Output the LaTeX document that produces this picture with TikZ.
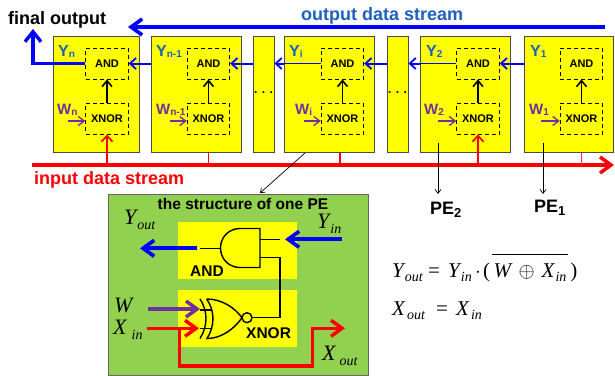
\documentclass[tikz,border=0pt]{standalone}
\usepackage{fontspec}
\setmainfont{Liberation Sans}
\newfontfamily\tmsfont{Liberation Serif}
\usetikzlibrary{arrows.meta}
\definecolor{pey}{HTML}{FFFF00}
\definecolor{peg}{HTML}{92D050}
\definecolor{bluetxt}{HTML}{1F5FBF}
\definecolor{purp}{HTML}{7030A0}
\definecolor{blueline}{HTML}{0000FF}
\newcommand{\fsz}[1]{\fontsize{#1}{#1}\selectfont}
\newcommand{\lab}[2]{#1\raisebox{-1.5pt}{\fsz{10}#2}}
\newcommand{\mth}[2]{{\tmsfont\itshape\fsz{22}#1\kern1pt\raisebox{-5pt}{\fsz{14}#2}}}
\newcommand{\emth}[2]{{\tmsfont\itshape\fsz{21}#1\kern1pt\raisebox{-4.5pt}{\fsz{14}#2}}}
\newcommand{\slot}[2]{\makebox[#1pt][l]{#2}}
\tikzset{
  pebox/.style={draw=black!70,fill=pey,line width=0.9pt,minimum height=115.5pt,inner sep=0pt},
  gatebox/.style={draw=black,dashed,line width=0.9pt,minimum width=42.5pt,minimum height=31pt,inner sep=0pt,font=\bfseries\fsz{11},dash pattern=on 4pt off 3pt},
  txt/.style={inner sep=0pt,font=\bfseries\fsz{18}},
  ylab/.style={inner sep=0pt,anchor=base west,text=bluetxt,font=\bfseries\fsz{16}},
  wlab/.style={inner sep=0pt,anchor=base west,text=purp,font=\bfseries\fsz{15}},
  thinblue/.style={draw=blueline,line width=1.3pt},
  thinarr/.style={draw=blueline,line width=2pt,-{Straight Barb[length=6pt,width=11pt,line width=1.8pt]}},
  warr/.style={draw=purp,line width=1.3pt,-{Straight Barb[length=6pt,width=9pt,line width=1.3pt]}},
  upk/.style={draw=black,line width=1.6pt,-{Straight Barb[length=6pt,width=10pt,line width=1.6pt]}},
  redstub/.style={draw=red,line width=1.2pt},
  redarr/.style={draw=red,line width=1.7pt,-{Straight Barb[length=6pt,width=11pt,line width=1.7pt]}},
  bigblue/.style={draw=blueline,line width=3.7pt,-{Straight Barb[length=11pt,width=16pt,line width=3.7pt]}},
  bigred/.style={draw=red,line width=3.5pt,-{Straight Barb[length=11pt,width=16pt,line width=3.5pt]}},
  bigpurp/.style={draw=purp,line width=3.5pt,-{Straight Barb[length=11pt,width=16pt,line width=3.5pt]}},
  thinblk/.style={draw=black,line width=0.7pt,-{Straight Barb[length=4pt,width=6pt,line width=0.7pt]}},
  gateline/.style={draw=black,line width=1.4pt},
  math/.style={inner sep=0pt,anchor=base west},
}
\begin{document}
\begin{tikzpicture}[x=1pt,y=-1pt]
\useasboundingbox (0,0) rectangle (615,375);
\fill[white] (0,0) rectangle (615,375);

% streams
\coordinate (ostart) at (605,27);
\coordinate (oend) at (128,27);
\draw[bigblue] (ostart) -- (oend);
\coordinate (istart) at (32,165);
\coordinate (iend) at (614,165);
\draw[bigred] (istart) -- (iend);

% PE boxes
\node[pebox,minimum width=86pt] (pn) at (96,94.5) {};
\node[pebox,minimum width=90pt] (pm) at (196,94.5) {};
\node[pebox,minimum width=21pt] (d1) at (263.5,94.5) {};
\node[pebox,minimum width=90pt] (pi) at (329,94.5) {};
\node[pebox,minimum width=21pt] (d2) at (397.5,94.5) {};
\node[pebox,minimum width=90pt] (p2) at (465,94.5) {};
\node[pebox,minimum width=89pt] (p1) at (568.5,94.5) {};

\node[inner sep=0pt,font=\bfseries\fsz{12}] (dt1) at (263.5,93) {. . .};
\node[inner sep=0pt,font=\bfseries\fsz{12}] (dt2) at (397.5,93) {. . .};

% gates in PEs
\foreach \n/\x in {n/107,m/208.5,i/342.5,t/478,o/581.5}{
  \node[gatebox] (a\n) at (\x,63.5) {AND};
  \node[gatebox] (x\n) at (\x,118.5) {XNOR};
  \draw[upk] (x\n.north) -- (a\n.south);
}

% labels
\node[ylab] (yn) at (58,56) {\lab{Y}{n}};
\node[ylab] (ym) at (156,56) {\lab{Y}{n-1}};
\node[ylab] (yi) at (289,56) {\lab{Y}{i}};
\node[ylab] (yt) at (426,56) {\lab{Y}{2}};
\node[ylab] (yo) at (530,56) {\lab{Y}{1}};
\node[wlab] (wn) at (57,114) {\lab{W}{n}};
\node[wlab] (wm) at (156,114) {\lab{W}{n-1}};
\node[wlab] (wi) at (295,114) {\lab{W}{i}};
\node[wlab] (wt) at (424,114) {\lab{W}{2}};
\node[wlab] (wo) at (529,114) {\lab{W}{1}};

% W inputs
\foreach \n/\x in {n/68,m/170,i/304,t/438,o/541}{
  \coordinate (ws\n) at (\x,121);
  \draw[warr] (ws\n) -- (x\n.west |- ws\n);
}

% blue chain
\draw[thinarr] (pm.west |- an.east) -- (an.east);
\draw[thinarr] (d1.west |- am.east) -- (am.east);
\draw[thinblue] (ai.west) -- (pi.west |- ai.west);
\draw[thinarr] (pi.west |- ai.west) -- (d1.east |- ai.west);
\draw[thinarr] (d2.west |- ai.east) -- (ai.east);
\draw[thinblue] (at.west) -- (p2.west |- at.west);
\draw[thinarr] (p2.west |- at.west) -- (d2.east |- at.west);
\draw[thinarr] (p1.west |- at.east) -- (at.east);
\coordinate (fo) at (33,29);
\draw[draw=blueline,line width=3.4pt,-{Straight Barb[length=10pt,width=16pt,line width=3.4pt]}] (an.west) -| (fo);

% red stubs
\draw[redarr] (an.center |- istart) -- (xn.south);
\draw[redarr] (at.center |- istart) -- (xt.south);
\draw[redstub] (pm.south -| xm) -- (xm |- istart);
\coordinate (irs) at (340,153);
\draw[redstub] (irs) -- (irs |- istart);
\draw[redstub,red!80] (p1.south -| xo) -- (xo |- istart);

% stream texts
\node[txt,anchor=base west] (fot) at (8,24) {final output};
\node[txt,anchor=base west,text=bluetxt] (ost) at (301,20) {output data stream};
\node[txt,anchor=base west,text=red] (ist) at (34,184) {input data stream};

% PE labels
\node[txt,anchor=base west,font=\bfseries\fsz{18}] (pet) at (430,214) {PE\raisebox{-3.5pt}{\fsz{13}2}};
\node[txt,anchor=base west,font=\bfseries\fsz{18}] (peo) at (534,212) {PE\raisebox{-3.5pt}{\fsz{13}1}};
\coordinate (pts) at (438,143);
\coordinate (pte) at (438,194);
\coordinate (pos) at (543,143);
\coordinate (poe) at (543,194);
\draw[thinblk] (pts) -- (pte);
\draw[thinblk] (pos) -- (poe);

% detail panel
\node[draw=black!60,fill=peg,line width=0.8pt,minimum width=260pt,minimum height=181pt,inner sep=0pt] (panel) at (238,285) {};
\coordinate (zs) at (305,153);
\coordinate (ze) at (260,193);
\draw[thinblk] (zs) -- (ze);
\node[txt,font=\bfseries\fsz{15.5}] (ttl) at (243,204) {the structure of one PE};
\node[fill=pey,inner sep=0pt,minimum width=119pt,minimum height=57pt] (ya) at (237.5,250.5) {};
\node[fill=pey,inner sep=0pt,minimum width=119pt,minimum height=57pt] (yx) at (237.5,318.5) {};

% AND gate
\draw[gateline] (260,228.5) -- (260,267.5) -- (240,267.5) .. controls (229,267.5) and (220.5,259) .. (220.5,248) .. controls (220.5,237) and (229,228.5) .. (240,228.5) -- cycle;
\coordinate (ao) at (200,248.3);
\draw[gateline] (ao) -- (220.5,248.3);
\coordinate (ai1) at (280,239.3);
\draw[gateline] (260,239.3) -- (ai1);
% XNOR gate
\draw[gateline] (206.7,299) .. controls (222,299) and (235,308) .. (242,317.7) .. controls (235,328) and (222,338.5) .. (207,338.5) .. controls (215,326) and (215,311) .. (206.7,299);
\draw[gateline] (200,299) .. controls (208,311) and (208,326) .. (200,338.5);
\draw[gateline] (200,310) -- (212,310);
\draw[gateline] (200,328.3) -- (212,328.3);
\node[draw=black,line width=1.4pt,circle,minimum size=10pt,inner sep=0pt] (bub) at (247,317.7) {};
\draw[gateline] (bub.east) -| (280,257.5) -- (260,257.5);

\node[txt,anchor=base west,font=\bfseries\fsz{15.5}] (andt) at (190,276) {AND};
\node[txt,anchor=base west,font=\bfseries\fsz{15.5}] (xnt) at (246,338) {XNOR};

% big arrows in panel
\coordinate (yos) at (196.7,248.3);
\coordinate (yoe) at (140,248.3);
\draw[bigblue] (yos) -- (yoe);
\coordinate (yis) at (341.7,239.3);
\coordinate (yie) at (285,239.3);
\draw[bigblue] (yis) -- (yie);
\coordinate (ws) at (147.7,309);
\coordinate (we) at (200,309);
\draw[bigpurp] (ws) -- (we);
\coordinate (xis) at (146.7,328.3);
\coordinate (xie) at (199,328.3);
\draw[bigred] (xis) -- (xie);
\coordinate (xob) at (179.3,328.3);
\coordinate (xoe) at (345,328.3);
\draw[bigred] (xob) |- (312.3,366) |- (xoe);

% panel math
\node[math] (myo) at (124,224) {\mth{Y}{out}};
\node[math] (myi) at (317,228) {\mth{Y}{in}};
\node[math] (mw) at (114,312) {\mth{W}{}};
\node[math] (mxi) at (113,334) {\mth{X}{\kern4pt in}};
\node[math] (mxo) at (322,360) {\mth{X}{\kern3pt out}};

% equations
\node[math] (eq1) at (392,277) {\tmsfont\fsz{21}\slot{36}{\emth{Y}{out}}\slot{20}{=}\slot{27}{\emth{Y}{in}}\slot{8}{$\cdot$}\slot{9}{(}$\overline{\hbox{\rule{0pt}{21.5pt}\kern1.5pt\slot{25}{\emth{W}{}}\slot{23}{$\oplus$}\emth{X}{in}\kern2pt}}$\kern2pt)};
\node[math] (eq2) at (392,315) {\tmsfont\fsz{21}\slot{44}{\emth{X}{\kern1pt out}}\slot{20}{=}\emth{X}{\kern1pt in}};
\end{tikzpicture}
\end{document}
